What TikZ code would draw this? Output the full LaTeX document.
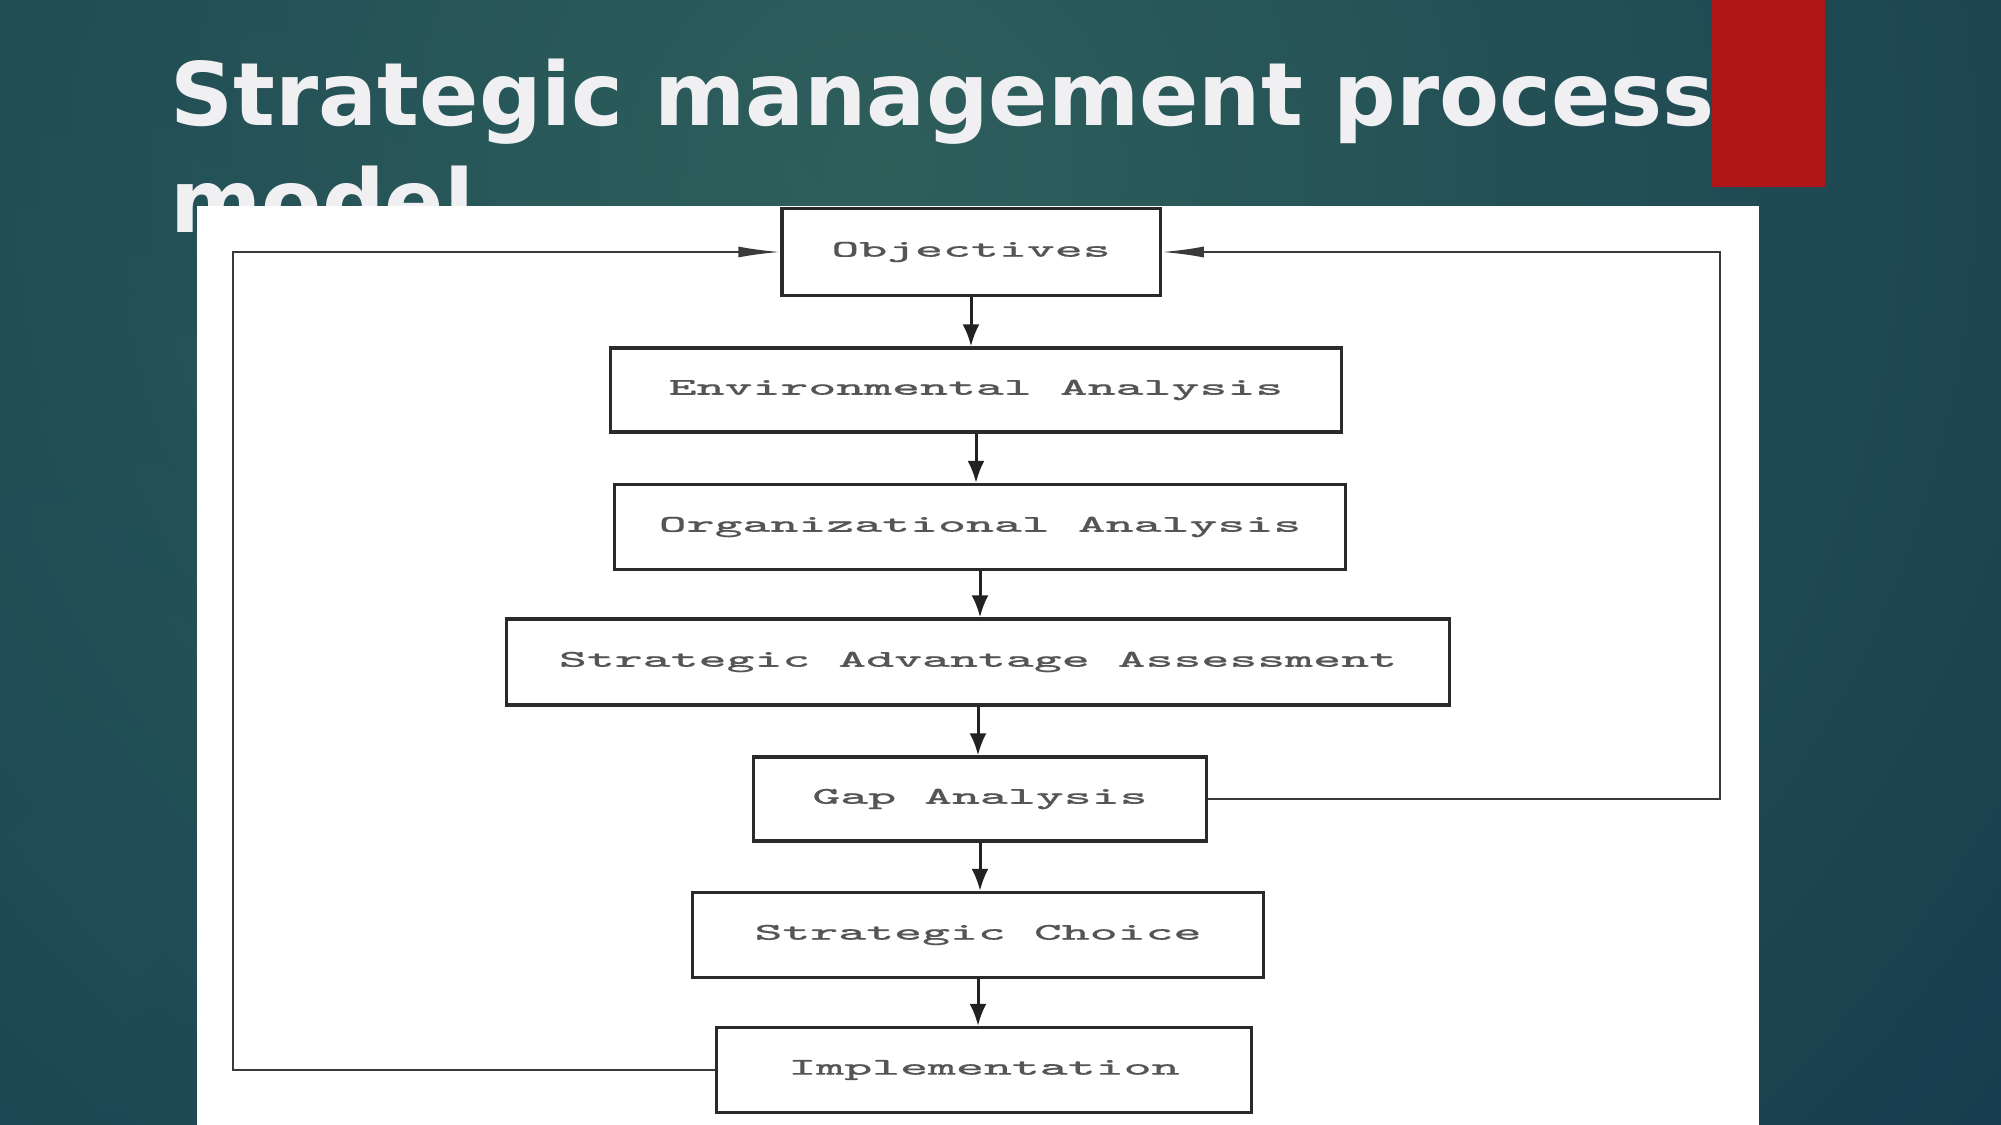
\documentclass[tikz,border=0pt]{standalone}
\usepackage{fontspec}
\setsansfont{DejaVu Sans}
\newfontfamily\boxfont[FakeStretch=2.2, FakeBold=0.6]{Latin Modern Mono}
\usetikzlibrary{arrows.meta}

\tikzset{
    stepBox/.style={draw=boxColour, line width=0.032cm, fill=white, inner sep=0pt,
        text=textColour, font=\boxfont\fontsize{6.8pt}{8pt}\selectfont},
    flowArrow/.style={draw=arrowColour, line width=0.03cm, -{Latex[length=0.22cm, width=0.17cm]}},
    loopArrow/.style={draw=lineColour, line width=0.022cm, -{Latex[length=0.42cm, width=0.11cm]}},
    titleText/.style={anchor=base west, inner sep=0pt, text=titleColour,
        font=\sffamily\bfseries\fontsize{24.9pt}{30pt}\selectfont}
}

\begin{document}
\begin{tikzpicture}[x=0.01cm, y=-0.01cm]
    % Define colors
    \definecolor{bgDark}{HTML}{11344A}
    \definecolor{bgLight}{HTML}{33675F}
    \definecolor{bgLow}{HTML}{235B66}
    \definecolor{titleColour}{HTML}{F0F0F2}
    \definecolor{redBar}{HTML}{AF1615}
    \definecolor{boxColour}{HTML}{2A2A2A}
    \definecolor{arrowColour}{HTML}{222222}
    \definecolor{lineColour}{HTML}{3A3A3A}
    \definecolor{textColour}{HTML}{555555}

    % Define the columns of the two feedback lines
    \def\leftX{233}
    \def\rightX{1720}

    \useasboundingbox (0,0) rectangle (2001,1125);

    % Draw slide background
    \begin{scope}
        \clip (0,0) rectangle (2001,1125);
        \fill[bgDark] (0,0) rectangle (2001,1125);
        \shade[inner color=bgLow, outer color=bgDark] (80,900) circle (1100);
        \shade[inner color=bgLight, outer color=bgDark, opacity=0.85] (880,170) circle (1900);
    \end{scope}

    % Draw title, its second line runs under the picture
    \node[titleText] (titleTop) at (170,126) {Strategic management process};
    \node[titleText] (titleBottom) at (170,233) {model};

    % Draw red bar
    \fill[redBar] (1712,0) rectangle (1825,187);

    % Draw white picture area
    \fill[white] (197,206) rectangle (1759,1125);

    % Draw the steps of the process
    \node[stepBox, minimum width=3.78cm, minimum height=0.87cm] (objectives) at (971,252) {Objectives};
    \node[stepBox, minimum width=7.30cm, minimum height=0.84cm] (environment) at (976,390) {Environmental Analysis};
    \node[stepBox, minimum width=7.31cm, minimum height=0.85cm] (organization) at (980,527) {Organizational Analysis};
    \node[stepBox, minimum width=9.43cm, minimum height=0.86cm] (advantage) at (978,662) {Strategic Advantage Assessment};
    \node[stepBox, minimum width=4.53cm, minimum height=0.84cm] (gap) at (980,799) {Gap Analysis};
    \node[stepBox, minimum width=5.70cm, minimum height=0.85cm] (choice) at (978,935) {Strategic Choice};
    \node[stepBox, minimum width=5.35cm, minimum height=0.85cm] (implementation) at (984,1070) {Implementation};

    % Draw arrows from step to step
    \draw[flowArrow] (objectives.south) -- (objectives.south |- environment.north);
    \draw[flowArrow] (environment.south) -- (environment.south |- organization.north);
    \draw[flowArrow] (organization.south) -- (organization.south |- advantage.north);
    \draw[flowArrow] (advantage.south) -- (advantage.south |- gap.north);
    \draw[flowArrow] (gap.south) -- (gap.south |- choice.north);
    \draw[flowArrow] (choice.south) -- (choice.south |- implementation.north);

    % Define the columns of the feedback lines
    \coordinate (rightLine) at (\rightX,0);
    \coordinate (leftLine) at (\leftX,0);

    % Draw feedback from gap analysis back to objectives
    \draw[loopArrow] (gap.east) -- (gap.east -| rightLine) |- (objectives.east);
    % Draw feedback from implementation back to objectives
    \draw[loopArrow] (implementation.west) -- (implementation.west -| leftLine) |- (objectives.west);

\end{tikzpicture}
\end{document}
